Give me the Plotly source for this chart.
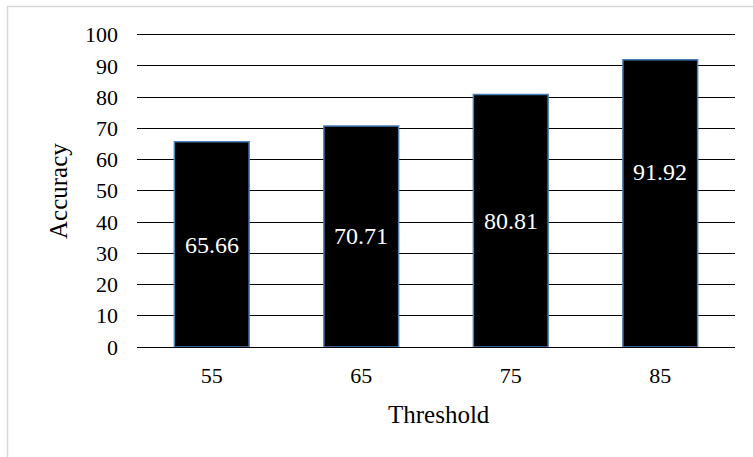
import plotly.graph_objects as go

categories = ["55", "65", "75", "85"]
accuracy = [65.66, 70.71, 80.81, 91.92]
label_text = ["65.66", "70.71", "80.81", "91.92"]
label_y = [32.8, 35.6, 40.4, 56.0]
y_ticks = [0, 10, 20, 30, 40, 50, 60, 70, 80, 90, 100]

W, H = 753, 457
L, R, T, B = 137, 18, 33, 110
pw, ph = W - L - R, H - T - B

def px_x(p):
    return (p - L) / pw

def px_y(p):
    return (H - B - p) / ph

FONT = "Liberation Serif, Times New Roman, serif"

fig = go.Figure()
fig.add_trace(go.Bar(
    x=categories, y=accuracy,
    marker=dict(color="black", line=dict(color="#4a7ebb", width=1.5)),
    hoverinfo="skip",
))

annotations = []
for i, (ly, t) in enumerate(zip(label_y, label_text)):
    annotations.append(dict(x=i, y=ly, xref="x", yref="y", text=t, showarrow=False,
                            xanchor="center", yanchor="middle",
                            font=dict(family=FONT, size=24, color="white")))
annotations.append(dict(x=px_x(58), y=px_y(191), xref="paper", yref="paper", text="Accuracy",
                        textangle=-90, showarrow=False, xanchor="center", yanchor="middle",
                        font=dict(family=FONT, size=25, color="black")))
annotations.append(dict(x=px_x(439), y=px_y(414), xref="paper", yref="paper", text="Threshold",
                        showarrow=False, xanchor="center", yanchor="middle",
                        font=dict(family=FONT, size=25, color="black")))

fig.update_layout(
    width=W, height=H,
    margin=dict(l=L, r=R, t=T, b=B),
    paper_bgcolor="white", plot_bgcolor="white",
    showlegend=False,
    bargap=0.5,
    font=dict(family=FONT, size=22, color="black"),
    xaxis=dict(type="category", range=[-0.5, 3.5], showgrid=False, showline=False, ticks="",
               ticklabelstandoff=13, tickfont=dict(family=FONT, size=22)),
    yaxis=dict(range=[0, 100.5], tickvals=y_ticks, showgrid=True, gridcolor="black",
               gridwidth=1.3, zeroline=True, zerolinecolor="black", zerolinewidth=1.3,
               showline=False, ticks="", ticklabelstandoff=18, tickfont=dict(family=FONT, size=22)),
    annotations=annotations,
    shapes=[dict(type="rect", xref="paper", yref="paper",
                 x0=px_x(7.5), x1=px_x(770), y0=px_y(470), y1=px_y(6.5),
                 line=dict(color="#d9d9d9", width=1.5), fillcolor="rgba(0,0,0,0)",
                 layer="below")],
)

fig.write_html("out.html")
